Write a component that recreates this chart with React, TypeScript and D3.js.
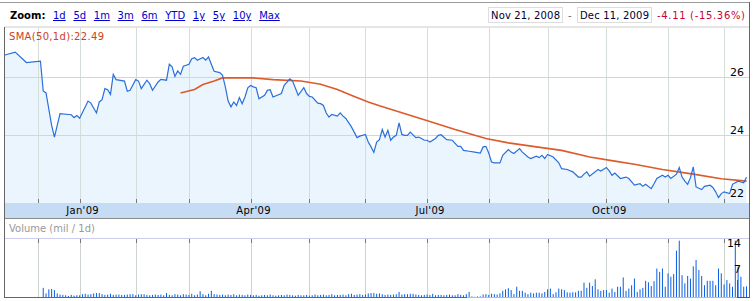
import React from "react";
import * as d3 from "d3";

// ---- data (trading-day index since Nov 21, 2008) ----
const priceDays = [0,4,8,13,14,15,17,18,20,24,25,26,27,30,31,33,34,35,36,37,38,39,40,43,44,45,47,48,49,51,52,53,55,56,58,59,60,61,62,63,64,66,67,68,69,71,72,73,74,75,77,78,79,80,81,82,83,84,85,86,87,88,89,90,91,93,94,95,96,99,100,102,103,105,107,108,109,110,112,113,114,115,116,117,119,120,121,122,124,126,127,129,130,131,132,133,134,135,136,137,138,139,140,141,142,143,144,145,147,148,149,150,151,152,154,155,156,158,160,162,163,164,166,168,170,171,172,173,174,175,177,178,180,181,182,184,185,187,188,190,191,192,193,194,196,198,199,201,203,205,206,207,208,209,211,212,213,215,216,217,218,220,222,223,225,227,228,229,231,232,233,235,236,237,238,240,241,242,243,244,245,246,247,249,250,252,253,254,255,256,257,259,260,262,263,264,265];
const priceValues = [26.76,26.87,26.51,26.56,25.53,25.46,24.34,23.94,24.75,24.71,24.61,24.68,24.59,25.18,25.11,24.77,25.15,25.23,25.61,25.57,25.41,26.10,25.92,25.87,25.52,25.55,25.92,25.87,25.61,25.90,25.78,25.55,25.84,25.93,25.90,26.45,26.36,26.03,26.22,26.10,26.38,26.45,26.64,26.68,26.59,26.68,26.59,26.70,26.45,26.21,26.16,26.07,25.67,25.18,24.98,25.15,25.03,25.30,25.09,25.32,25.64,25.72,25.67,25.64,25.26,25.38,25.55,25.57,25.32,25.44,25.72,25.95,25.87,25.38,25.64,25.44,25.34,25.32,25.11,25.09,25.03,24.77,24.63,24.72,24.66,24.77,24.66,24.58,24.29,23.92,23.97,24.03,23.77,23.60,23.41,23.77,23.85,24.20,23.94,24.17,23.83,23.94,24.00,24.43,24.03,24.00,24.00,24.11,23.92,23.94,23.89,23.83,23.83,23.77,23.89,24.00,24.02,23.85,23.83,23.62,23.62,23.48,23.45,23.42,23.39,23.60,23.62,23.39,23.08,23.05,23.05,23.31,23.51,23.42,23.37,23.54,23.42,23.25,23.20,23.28,23.23,23.31,23.20,23.34,23.25,23.05,22.85,22.82,22.74,22.56,22.56,22.66,22.74,22.59,22.74,22.82,22.77,22.89,22.77,22.62,22.70,22.51,22.56,22.51,22.28,22.33,22.24,22.31,22.16,22.33,22.51,22.62,22.56,22.62,22.51,22.66,22.89,22.56,22.42,22.31,22.54,22.91,22.22,22.13,22.24,22.28,22.20,22.05,21.85,21.99,22.05,21.99,22.31,22.42,22.39,22.36,22.55];

const smaDays = [63,68,71,75,78,89,96,106,113,119,125,130,134,140,150,161,172,180,190,199,209,218,225,235,246,256,265];
const smaValues = [25.46,25.58,25.75,25.87,25.98,25.98,25.92,25.87,25.76,25.58,25.34,25.15,25.02,24.84,24.54,24.20,23.89,23.74,23.60,23.48,23.25,23.11,23.00,22.82,22.66,22.50,22.42];

const volumeStartDay = 14;
const volumeValues = [
  2.6,1.1,2.2,2.3,2.0,1.1,0.8,0.7,0.6,0.4,
  0.7,0.5,0.6,0.6,0.9,1.0,0.8,0.9,1.1,1.2,
  1.2,0.9,0.7,0.8,1.0,0.7,0.8,0.8,0.7,0.7,
  0.8,0.9,0.9,0.6,0.8,0.9,0.9,0.7,0.6,0.7,
  0.8,0.7,0.8,0.6,1.2,0.7,0.6,0.9,0.8,0.6,
  0.9,0.8,0.7,1.0,0.6,0.8,1.7,0.9,0.6,1.0,
  1.8,0.9,0.8,0.7,0.8,0.6,0.8,0.7,0.9,0.6,
  0.8,0.7,0.6,0.8,0.7,0.6,0.7,0.5,0.6,0.7,
  0.6,0.8,0.6,0.5,0.6,0.7,0.6,0.8,0.7,0.6,
  0.5,0.7,0.6,0.6,0.7,0.5,0.6,0.8,0.6,0.7,
  0.8,0.6,0.7,0.9,0.6,0.7,0.7,0.8,0.6,0.9,
  1.0,0.7,0.8,0.9,0.7,0.8,1.1,1.2,1.2,1.0,
  1.1,0.9,0.7,0.8,0.7,0.8,0.9,1.5,0.8,0.9,
  0.9,1.0,1.0,0.8,0.7,0.6,0.7,0.8,0.7,1.0,
  0.6,0.7,0.7,0.6,0.7,0.8,0.6,0.6,0.9,0.7,
  0.6,0.9,1.5,0.3,0.2,0.3,0.3,0.8,0.9,0.7,
  1.0,0.9,0.8,1.1,1.8,2.2,2.5,2.0,0.9,2.9,
  1.8,1.8,1.3,0.9,1.3,1.1,1.3,1.3,1.1,1.5,
  2.2,2.4,0.9,1.4,2.4,2.2,2.0,1.4,1.3,1.4,
  1.4,1.8,1.8,4.0,2.6,4.0,3.1,4.9,2.2,1.8,
  2.0,2.0,1.3,2.4,1.5,2.9,2.9,5.4,1.8,2.4,
  3.3,5.1,1.5,2.2,2.6,4.5,4.1,3.1,4.4,7.8,
  6.9,7.8,2.9,6.5,5.6,6.3,12.6,15.3,6.0,3.8,
  5.8,5.1,8.4,10.1,7.4,5.8,3.3,4.5,4.5,4.5,
  3.3,7.8,6.5,3.5,4.7,3.8,2.9,15.3,8.3,5.6,2.9,3.0,
];

const monthTickDays = [12, 27, 47, 66, 88, 109, 129, 151, 173, 194, 215, 237, 257];
const quarterLabelDays = [27, 88, 151, 215];
const quarterLabels = ["Jan'09", "Apr'09", "Jul'09", "Oct'09"];
const priceTicks = [26, 24];
const priceTickLabels = ["26", "24", "22"];
const priceLabelValues = [26, 24, 22];
const volumeTicks = [14, 7];
const zoomLinks = ["1d", "5d", "1m", "3m", "6m", "YTD", "1y", "5y", "10y", "Max"];
const rangeStart = "Nov 21, 2008";
const rangeEnd = "Dec 11, 2009";
const rangeChange = "-4.11 (-15.36%)";
const smaLabel = "SMA(50,1d):22.49";
const volumeLabel = "Volume (mil / 1d)";
const lastDay = 265;

const FONT = "'DejaVu Sans', Verdana, sans-serif";

function measure(t: string, font: string): number {
  if (typeof document === "undefined") return t.length * 6.5;
  const c = document.createElement("canvas").getContext("2d");
  if (!c) return t.length * 6.5;
  c.font = font;
  return c.measureText(t).width;
}

export default function App() {
  const x = d3.scaleLinear().domain([0, lastDay]).range([4, 746.5]);
  const yP = d3.scaleLinear().domain([22, 26]).range([193.3, 77.3]);
  const yV = d3.scaleLinear().domain([0, 14]).range([297.5, 245.5]);

  const pricePts: [number, number][] = priceDays.map((d, i) => [d, priceValues[i]]);
  const smaPts: [number, number][] = smaDays.map((d, i) => [d, smaValues[i]]);

  const line = d3.line<[number, number]>().x((d) => x(d[0])).y((d) => yP(d[1]));
  const area = d3
    .area<[number, number]>()
    .x((d) => x(d[0]))
    .y0(203)
    .y1((d) => yP(d[1]));

  const gx = (d: number) => Math.round(x(d)) + 0.5;

  const L = 4.5;
  const R = 749.5;

  let cursor = 53;
  const linkPos = zoomLinks.map((t) => {
    const w = measure(t, "10px 'DejaVu Sans'");
    const p = cursor;
    cursor += w + 7.7;
    return p;
  });

  return (
    <svg
      width={755}
      height={301}
      style={{ position: "absolute", left: 0, top: 0, background: "#fff" }}
      fontFamily={FONT}
    >
      {/* toolbar */}
      <line x1={0} x2={R} y1={2.5} y2={2.5} stroke="#9a9a9a" />
      <text x={10} y={19} fontSize={10} fontWeight="bold" fill="#000">Zoom:</text>
      {zoomLinks.map((t, i) => (
        <text key={t} x={linkPos[i]} y={19} fontSize={10} fill="#0000cc" textDecoration="underline">
          {t}
        </text>
      ))}
      <rect x={488.5} y={7.5} width={74} height={15} fill="#fff" stroke="#dddddd" />
      <text x={491} y={18.5} fontSize={10} fill="#000033" textLength={69} lengthAdjust="spacing">{rangeStart}</text>
      <text x={568} y={18.5} fontSize={10} fill="#666">-</text>
      <rect x={577.5} y={7.5} width={74} height={15} fill="#fff" stroke="#dddddd" />
      <text x={580} y={18.5} fontSize={10} fill="#000033" textLength={69} lengthAdjust="spacing">{rangeEnd}</text>
      <text x={657} y={18.5} fontSize={10} fill="#cc0033" textLength={88} lengthAdjust="spacing">{rangeChange}</text>
      <line x1={L} x2={R} y1={27} y2={27} stroke="#cccccc" />

      {/* price panel */}
      <path d={area(pricePts) || ""} fill="#ebf5fe" />
      {monthTickDays.map((d) => (
        <line key={"g" + d} x1={gx(d)} x2={gx(d)} y1={27.5} y2={203} stroke="#cfd8d2" strokeOpacity={0.85} />
      ))}
      {priceTicks.map((v) => (
        <line key={"h" + v} x1={L} x2={R} y1={Math.round(yP(v)) + 0.5} y2={Math.round(yP(v)) + 0.5} stroke="#d2d2ee" />
      ))}
      {monthTickDays.map((d) => (
        <line key={"t" + d} x1={gx(d)} x2={gx(d)} y1={199} y2={203} stroke="#777" />
      ))}
      <path d={line(smaPts) || ""} fill="none" stroke="#dd5a2a" strokeWidth={1.6} />
      <path d={line(pricePts) || ""} fill="none" stroke="#2a6fdb" strokeWidth={1.2} />
      <text x={9} y={40} fontSize={10} fill="#d0401e" textLength={95} lengthAdjust="spacing">{smaLabel}</text>
      {priceLabelValues.map((v, i) => (
        <text key={"pl" + v} x={744} y={i === 2 ? 197 : Math.round(yP(v)) - 1} fontSize={11} textAnchor="end" fill="#000">
          {priceTickLabels[i]}
        </text>
      ))}

      {/* date band */}
      <rect x={L} y={203} width={R - L} height={15} fill="#c6dbf4" />
      <line x1={L} x2={R} y1={218.5} y2={218.5} stroke="#8a8a8a" />
      {quarterLabelDays.map((d, i) => (
        <text key={"q" + d} x={x(d) + 3} y={214} fontSize={10} textAnchor="middle" fill="#000" letterSpacing={0.3}>
          {quarterLabels[i]}
        </text>
      ))}

      {/* volume panel */}
      <text x={9} y={232} fontSize={10} fill="#999">{volumeLabel}</text>
      <line x1={L} x2={R} y1={238.5} y2={238.5} stroke="#ccccee" />
      {monthTickDays.map((d) => (
        <line key={"vg" + d} x1={gx(d)} x2={gx(d)} y1={239} y2={297} stroke="#cdd3cd" />
      ))}
      {monthTickDays.map((d) => (
        <line key={"vt" + d} x1={gx(d)} x2={gx(d)} y1={239} y2={243} stroke="#777" />
      ))}
      {volumeValues.map((v, i) => (
        <rect
          key={"v" + i}
          x={x(volumeStartDay + i) - 0.5}
          y={yV(v)}
          width={1}
          height={297.5 - yV(v)}
          fill="#0a5fe0"
        />
      ))}
      {volumeTicks.map((v) => (
        <text key={"vl" + v} x={741} y={Math.round(yV(v)) + 1} fontSize={11} textAnchor="end" fill="#000">
          {String(v)}
        </text>
      ))}

      {/* frame */}
      <line x1={L} x2={L} y1={27} y2={298} stroke="#666" />
      <line x1={R} x2={R} y1={2} y2={298} stroke="#666" />
      <line x1={L} x2={467} y1={297.5} y2={297.5} stroke="#666" />
      <line x1={467} x2={737} y1={297.5} y2={297.5} stroke="#bbb" />
      <line x1={737.5} x2={737.5} y1={280} y2={298} stroke="#555" />
      <line x1={737} x2={R} y1={297.5} y2={297.5} stroke="#555" />
    </svg>
  );
}
